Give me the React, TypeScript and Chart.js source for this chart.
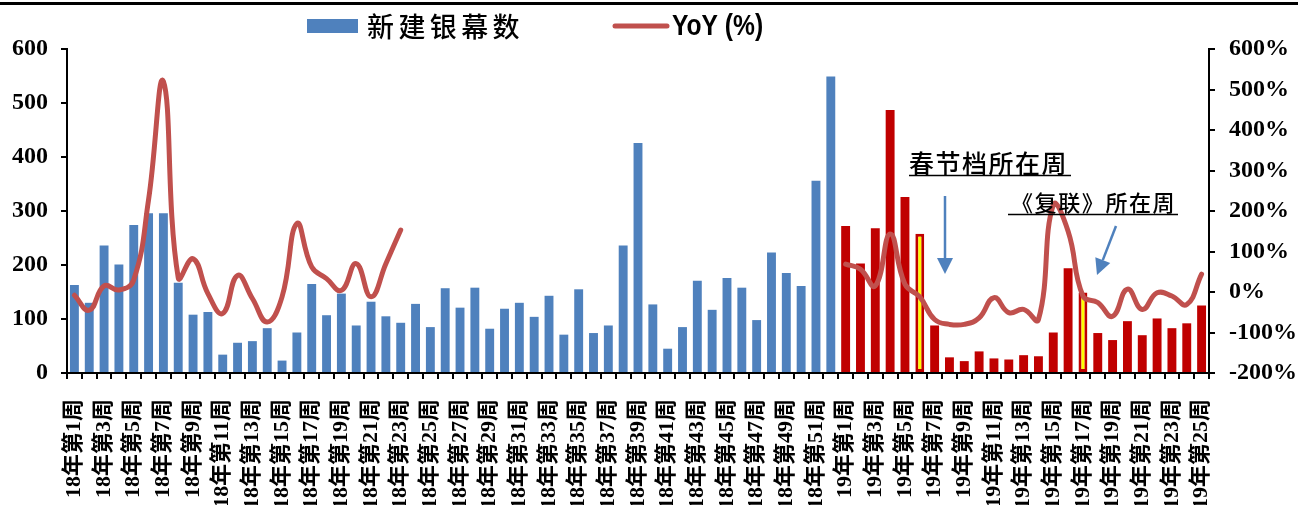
import React, { useEffect, useRef } from 'react';
import { Chart, registerables } from 'chart.js';

Chart.register(...registerables);

const categories2018 = [
  '18年第1周', '18年第2周', '18年第3周', '18年第4周', '18年第5周', '18年第6周', '18年第7周', '18年第8周',
  '18年第9周', '18年第10周', '18年第11周', '18年第12周', '18年第13周', '18年第14周', '18年第15周', '18年第16周',
  '18年第17周', '18年第18周', '18年第19周', '18年第20周', '18年第21周', '18年第22周', '18年第23周', '18年第24周',
  '18年第25周', '18年第26周', '18年第27周', '18年第28周', '18年第29周', '18年第30周', '18年第31周', '18年第32周',
  '18年第33周', '18年第34周', '18年第35周', '18年第36周', '18年第37周', '18年第38周', '18年第39周', '18年第40周',
  '18年第41周', '18年第42周', '18年第43周', '18年第44周', '18年第45周', '18年第46周', '18年第47周', '18年第48周',
  '18年第49周', '18年第50周', '18年第51周', '18年第52周',
];
const categories2019 = [
  '19年第1周', '19年第2周', '19年第3周', '19年第4周', '19年第5周', '19年第6周', '19年第7周', '19年第8周',
  '19年第9周', '19年第10周', '19年第11周', '19年第12周', '19年第13周', '19年第14周', '19年第15周', '19年第16周',
  '19年第17周', '19年第18周', '19年第19周', '19年第20周', '19年第21周', '19年第22周', '19年第23周', '19年第24周',
  '19年第25周',
];

const newScreens2018 = [
  163, 130, 236, 201, 274, 296, 296, 167, 108, 113, 34, 56, 59, 83, 23, 75,
  165, 107, 147, 88, 132, 105, 93, 128, 85, 157, 121, 158, 82, 119, 130, 104,
  143, 71, 155, 74, 88, 236, 426, 127, 45, 85, 171, 117, 176, 158, 98, 223,
  185, 161, 356, 549,
];
const newScreens2019 = [
  272, 203, 268, 487, 326, 258, 88, 29, 22, 40, 27, 25, 33, 31, 75, 194,
  149, 74, 61, 96, 70, 101, 83, 92, 125,
];
// YoY (%) 2018 is only available for weeks 1-23
const yoy2018 = [
  -8, -45, 15, 5, 30, 228, 520, 35, 82, -4, -53, 41, -16, -74, -12, 169,
  62, 33, 4, 70, -12, 70, 153,
];
const yoy2019 = [
  69, 56, 15, 143, 19, -12, -68, -80, -80, -64, -14, -51, -43, -68, 215, 150,
  -10, -26, -60, 7, -43, -2, -10, -31, 44,
];
const highlight2019Weeks = [6, 17];

const leftTicks = [0, 100, 200, 300, 400, 500, 600];
const rightTicks = [-200, -100, 0, 100, 200, 300, 400, 500, 600];

const legendBarLabel = '新建银幕数';
const legendLineLabel = 'YoY (%)';
const noteSpring = '春节档所在周';
const noteAvengers = '《复联》所在周';

const BLUE = '#4F81BD';
const RED = '#C00000';
const LINE = '#C0504D';
const YELLOW = '#FFFF00';

const W = 1298;
const H = 505;

const cjk = '"Noto Sans CJK SC", "Noto Sans CJK JP", sans-serif';
const serif = '"Liberation Serif", "Times New Roman", "Noto Sans CJK SC", serif';

function drawChars(ctx: CanvasRenderingContext2D, text: string, x: number, y: number, adv: number) {
  const chars = Array.from(text);
  chars.forEach((c, i) => ctx.fillText(c, x + i * adv, y));
}

function arrow(ctx: CanvasRenderingContext2D, x1: number, y1: number, x2: number, y2: number) {
  const ang = Math.atan2(y2 - y1, x2 - x1);
  const headLen = 16;
  const headW = 8;
  const bx = x2 - headLen * Math.cos(ang);
  const by = y2 - headLen * Math.sin(ang);
  ctx.strokeStyle = BLUE;
  ctx.fillStyle = BLUE;
  ctx.lineWidth = 2.5;
  ctx.beginPath();
  ctx.moveTo(x1, y1);
  ctx.lineTo(bx, by);
  ctx.stroke();
  ctx.beginPath();
  ctx.moveTo(x2, y2);
  ctx.lineTo(bx + headW * Math.sin(ang), by - headW * Math.cos(ang));
  ctx.lineTo(bx - headW * Math.sin(ang), by + headW * Math.cos(ang));
  ctx.closePath();
  ctx.fill();
}

const decorPlugin = {
  id: 'decor',
  afterDraw(chart: any) {
    const ctx: CanvasRenderingContext2D = chart.ctx;
    ctx.save();
    // top rule
    ctx.fillStyle = '#000';
    ctx.fillRect(0, 2, W, 3);

    // legend: bars
    ctx.fillStyle = BLUE;
    ctx.fillRect(307, 19, 51, 14);
    ctx.fillStyle = '#000';
    ctx.font = `500 27px ${cjk}`;
    ctx.textBaseline = 'middle';
    ctx.textAlign = 'left';
    drawChars(ctx, legendBarLabel, 367, 27, 31.4);

    // legend: line
    ctx.strokeStyle = LINE;
    ctx.lineWidth = 5;
    ctx.lineCap = 'round';
    ctx.beginPath();
    ctx.moveTo(615, 26);
    ctx.lineTo(667, 26);
    ctx.stroke();
    ctx.save();
    ctx.translate(672, 27);
    ctx.scale(0.82, 1);
    ctx.fillStyle = '#000';
    ctx.font = `bold 30px "Liberation Sans", Arial, sans-serif`;
    ctx.fillText(legendLineLabel, 0, 0);
    ctx.restore();

    // annotations
    ctx.fillStyle = '#000';
    ctx.font = `500 25px ${cjk}`;
    drawChars(ctx, noteSpring, 909, 163, 26.5);
    ctx.font = `500 22px ${cjk}`;
    drawChars(ctx, noteAvengers, 1011, 203, 23.6);
    ctx.strokeStyle = '#000';
    ctx.lineWidth = 1.5;
    ctx.lineCap = 'butt';
    ctx.beginPath();
    ctx.moveTo(909, 175.5);
    ctx.lineTo(1071, 175.5);
    ctx.moveTo(1008, 214.5);
    ctx.lineTo(1178, 214.5);
    ctx.stroke();

    arrow(ctx, 945, 196, 945, 274);
    arrow(ctx, 1116, 226, 1097, 275);
    ctx.restore();
  },
};

export default function App() {
  const ref = useRef<HTMLCanvasElement | null>(null);

  useEffect(() => {
    document.body.style.margin = '0';
    document.body.style.overflow = 'hidden';
    const canvas = ref.current;
    if (!canvas) return;

    const labels = [...categories2018, ...categories2019];
    const bars = [...newScreens2018, ...newScreens2019];
    const barFill = bars.map((_, i) => {
      if (i < newScreens2018.length) return BLUE;
      const wk = i - newScreens2018.length + 1;
      return highlight2019Weeks.includes(wk) ? YELLOW : RED;
    });
    const barBorder = bars.map((_, i) => (i < newScreens2018.length ? BLUE : RED));
    const barBorderW = bars.map((_, i) => {
      if (i < newScreens2018.length) return 0;
      const wk = i - newScreens2018.length + 1;
      return highlight2019Weeks.includes(wk) ? 3 : 0;
    });
    const gap = new Array(newScreens2018.length - yoy2018.length).fill(null);
    const line = [...yoy2018, ...gap, ...yoy2019];

    const chart = new Chart(canvas, {
      type: 'bar',
      data: {
        labels,
        datasets: [
          {
            type: 'line',
            label: legendLineLabel,
            data: line as any,
            yAxisID: 'y1',
            borderColor: LINE,
            borderWidth: 5,
            pointRadius: 0,
            tension: 0.45,
            spanGaps: false,
            order: 0,
            borderCapStyle: 'round',
            borderJoinStyle: 'round',
          } as any,
          {
            type: 'bar',
            label: legendBarLabel,
            data: bars,
            yAxisID: 'y',
            backgroundColor: barFill,
            borderColor: barBorder,
            borderWidth: barBorderW,
            borderSkipped: false,
            barPercentage: 0.6,
            categoryPercentage: 1,
            order: 1,
          } as any,
        ],
      },
      options: {
        animation: false,
        responsive: true,
        maintainAspectRatio: false,
        layout: { padding: { top: 49, left: 0, right: 0, bottom: 0 } },
        plugins: {
          legend: { display: false },
          tooltip: { enabled: false },
        },
        scales: {
          x: {
            grid: {
              offset: true,
              drawOnChartArea: false,
              drawTicks: true,
              tickLength: 6,
              color: '#000',
              lineWidth: 2,
            },
            border: { color: '#000', width: 2 },
            ticks: {
              autoSkip: false,
              minRotation: 90,
              maxRotation: 90,
              padding: 20,
              color: '#000',
              font: { family: serif, size: 22, weight: 'bold' },
              callback: (_v: any, i: number) => (i % 2 === 0 ? labels[i] : ''),
            },
            afterFit: (s: any) => {
              s.height = 132;
            },
          },
          y: {
            position: 'left',
            min: 0,
            max: 600,
            afterBuildTicks: (s: any) => {
              s.ticks = leftTicks.map((v) => ({ value: v }));
            },
            grid: {
              drawOnChartArea: false,
              drawTicks: true,
              tickLength: 6,
              color: '#000',
              lineWidth: 2,
            },
            border: { color: '#000', width: 2 },
            ticks: {
              padding: 13,
              color: '#000',
              font: { family: serif, size: 24, weight: 'bold' },
            },
            afterFit: (s: any) => {
              s.width = 67;
            },
          },
          y1: {
            position: 'right',
            min: -200,
            max: 600,
            afterBuildTicks: (s: any) => {
              s.ticks = rightTicks.map((v) => ({ value: v }));
            },
            grid: {
              drawOnChartArea: false,
              drawTicks: true,
              tickLength: 6,
              color: '#000',
              lineWidth: 2,
            },
            border: { color: '#000', width: 2 },
            ticks: {
              padding: 14,
              color: '#000',
              font: { family: serif, size: 24, weight: 'bold' },
              callback: (v: any) => `${v}%`,
            },
            afterFit: (s: any) => {
              s.width = 89;
            },
          },
        },
      },
      plugins: [decorPlugin],
    });

    return () => chart.destroy();
  }, []);

  return (
    <div style={{ width: W, height: H, position: 'relative', background: '#fff' }}>
      <canvas ref={ref} width={W} height={H} />
    </div>
  );
}
